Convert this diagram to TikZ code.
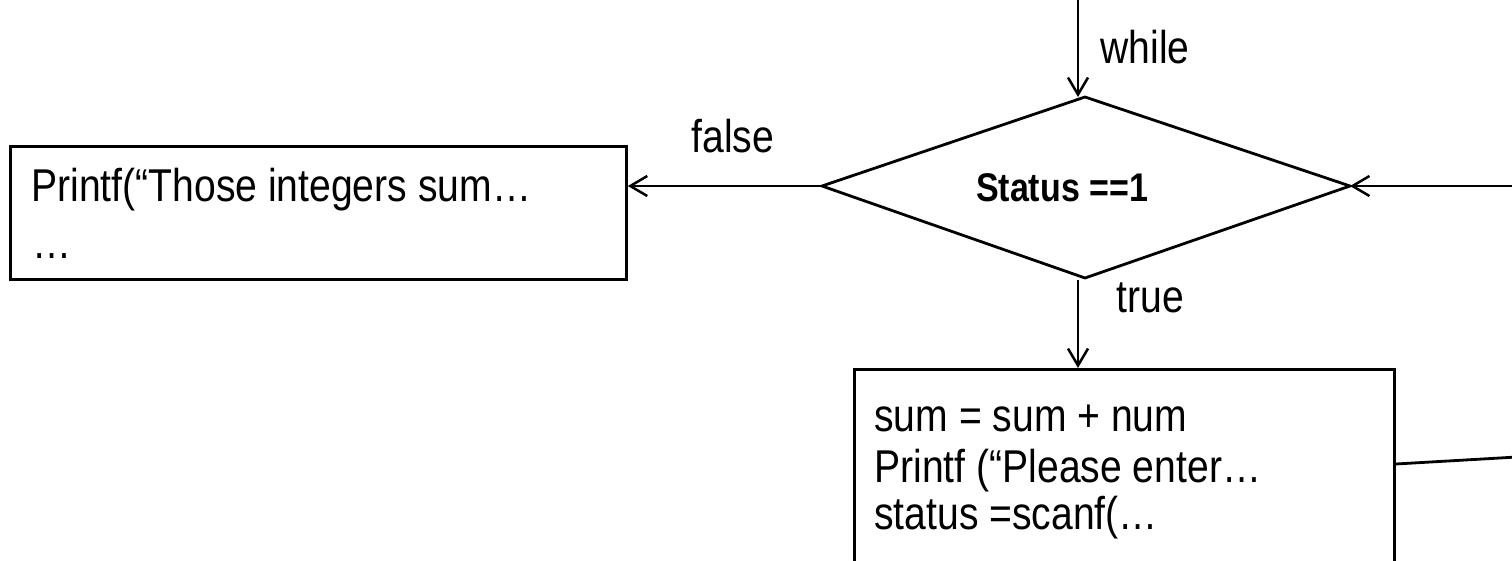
\documentclass[tikz,border=0pt]{standalone}
\usepackage{fontspec}
\setmainfont{Liberation Sans}[FakeStretch=0.85]
\usetikzlibrary{arrows.meta}
\begin{document}
\begin{tikzpicture}[x=1pt,y=-1pt,
  line width=2.8pt,
  conn/.style={-{Straight Barb[length=17pt,width=20pt,line width=2.5pt]}},
  lbl/.style={font=\fontsize{46}{50}\selectfont, inner sep=0pt, anchor=base west},
  boxtxt/.style={font=\fontsize{46}{50}\selectfont, inner sep=0pt, anchor=base west}]
\clip (0,0) rectangle (1512,560);
\fill[white] (0,0) rectangle (1512,560);
% decision diamond
\coordinate (dl) at (822,186);
\coordinate (dt) at (1085,97);
\coordinate (dr) at (1350,186);
\coordinate (db) at (1085,278);
\draw (dl) -- (dt) -- (dr) -- (db) -- cycle;
\node[font=\bfseries\fontsize{40}{44}\selectfont, inner sep=0pt] (cond) at (1062,188) {Status ==1};
% boxes
\node[draw, minimum width=616pt, minimum height=133pt, anchor=north west, inner sep=0pt] (b1) at (9,145) {};
\node[draw, minimum width=540pt, minimum height=230pt, anchor=north west, inner sep=0pt] (b2) at (853,368) {};
\node[boxtxt] (b1a) at (30,201) {Printf(“Those integers sum…};
\node[boxtxt] (b1b) at (31,258) {…};
\node[boxtxt] (b2a) at (873,431) {sum = sum + num};
\node[boxtxt] (b2b) at (873,482) {Printf (“Please enter…};
\node[boxtxt] (b2c) at (873,529) {status =scanf(…};
% connectors
\coordinate (top) at (1078,-5);
\coordinate (dtin) at (1078,97);
\draw[conn] (top) -- (dtin);
\node[lbl] (while) at (1099,63) {while};
\draw[conn] (dl) -- (b1.east |- dl);
\node[lbl] (false) at (690,152) {false};
\coordinate (dbout) at (1078,280);
\draw[conn] (dbout) -- (b2.north -| dbout);
\node[lbl] (true) at (1115,312) {true};
\coordinate (re) at (1517,457);
\coordinate (rin) at (1517,186);
\draw (b2.east |- 0,464) -- (re);
\draw[conn] (rin) -- (dr);
\end{tikzpicture}
\end{document}
